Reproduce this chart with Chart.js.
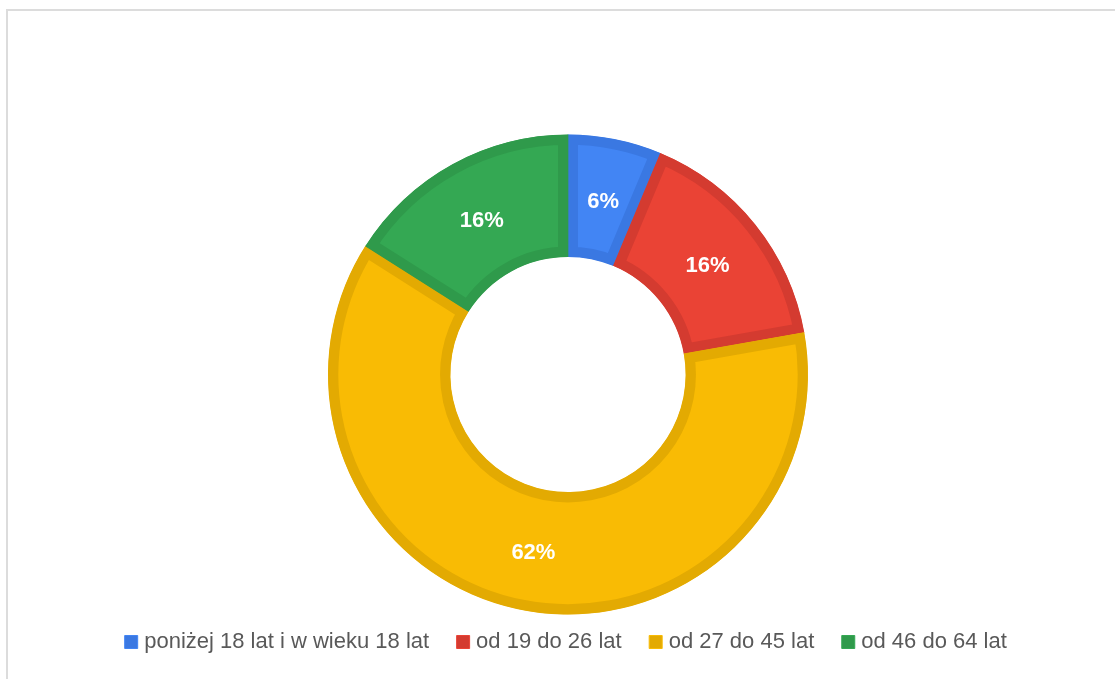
<!DOCTYPE html>
<html>
<head>
<meta charset="utf-8">
<script src="https://cdn.jsdelivr.net/npm/chart.js@4/dist/chart.umd.min.js"></script>
<style>
  html, body { margin: 0; padding: 0; background: #fff; overflow: hidden; width: 1115px; height: 679px; }
  #frame { position: absolute; left: 6px; top: 9px; width: 1200px; height: 800px; border: 2px solid #dcdcdc; }
  #wrap { position: absolute; left: 8px; top: 11px; width: 1120px; height: 668px; }
</style>
</head>
<body>
<div id="frame"></div>
<div id="wrap"><canvas id="ageCanvas"></canvas></div>
<script>
const ageCanvas = document.getElementById("ageCanvas");

// age groups and their share (%)
var ageLabels = [
  "poniżej 18 lat i w wieku 18 lat",
  "od 19 do 26 lat",
  "od 27 do 45 lat",
  "od 46 do 64 lat"
];
var ageValues = [6.3, 15.9, 61.8, 16.0];

var fillColors = ["#4285f4", "#ea4335", "#f9bb04", "#34a853"];
var edgeColors = ["#3a78e2", "#d43b30", "#e3aa02", "#2f9a4b"];

// white percentage in the middle of each slice
const sliceLabels = {
  id: "sliceLabels",
  afterDatasetsDraw(chart) {
    const ctx = chart.ctx;
    const meta = chart.getDatasetMeta(0);
    const total = ageValues.reduce((a, b) => a + b, 0);
    ctx.save();
    ctx.font = "bold 22px 'Liberation Sans', Arial, sans-serif";
    ctx.fillStyle = "#ffffff";
    ctx.textAlign = "center";
    ctx.textBaseline = "middle";
    meta.data.forEach((arc, i) => {
      const p = arc.tooltipPosition();
      ctx.fillText(Math.round(ageValues[i] / total * 100) + "%", p.x, p.y + 3);
    });
    ctx.restore();
  }
};

new Chart(ageCanvas, {
  type: "doughnut",
  data: {
    labels: ageLabels,
    datasets: [{
      data: ageValues,
      backgroundColor: fillColors,
      borderColor: edgeColors,
      borderWidth: 10,
      borderAlign: "inner",
      hoverOffset: 0
    }]
  },
  options: {
    responsive: true,
    maintainAspectRatio: false,
    animation: false,
    radius: 240,
    cutout: "49%",
    layout: { padding: { top: 139, bottom: 16, left: 0, right: 0 } },
    plugins: {
      tooltip: { enabled: false },
      legend: {
        position: "bottom",
        labels: {
          color: "#595959",
          font: { size: 22, family: "'Liberation Sans', Arial, sans-serif" },
          usePointStyle: true,
          pointStyle: "rect",
          boxWidth: 4,
          boxHeight: 13,
          padding: 32,
          generateLabels(chart) {
            return ageLabels.map((l, i) => ({
              text: l,
              fillStyle: edgeColors[i],
              strokeStyle: fillColors[i],
              fontColor: "#595959",
              lineWidth: 1,
              pointStyle: "rect",
              index: i
            }));
          }
        }
      }
    }
  },
  plugins: [sliceLabels]
});
</script>
</body>
</html>
